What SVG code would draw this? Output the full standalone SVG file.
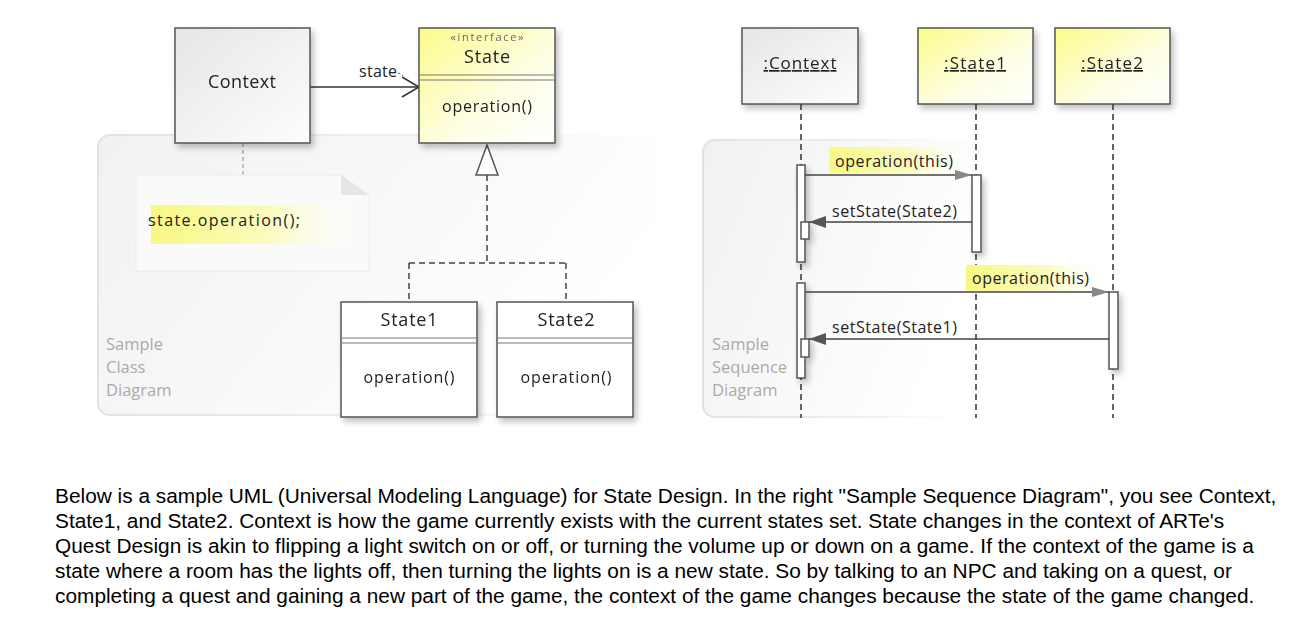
<svg xmlns="http://www.w3.org/2000/svg" width="1309" height="625" viewBox="0 0 1309 625">
<defs>
<style>
.u{font-family:"Open Sans","DejaVu Sans",sans-serif;fill:#222}
.lbl{font-size:16px}
.ttl{font-size:18px}
.gray{font-family:"Open Sans","DejaVu Sans",sans-serif;font-size:16.5px;fill:#aaa}
.box{stroke:#555;stroke-width:1.5}
.life{stroke:#333;stroke-width:1.5;stroke-dasharray:6,4;fill:none}
.msg{stroke:#444;stroke-width:1.5;fill:none}
.act{fill:#fff;stroke:#555;stroke-width:1.5}
.body{font-family:"Liberation Sans",Arial,sans-serif;font-size:20.85px;fill:#000}
</style>
<linearGradient id="gGray" x1="0" y1="0" x2="1" y2="1"><stop offset="0" stop-color="#e6e6e6"/><stop offset="1" stop-color="#fdfdfd"/></linearGradient>
<linearGradient id="gYel" x1="0" y1="0" x2="1" y2="1"><stop offset="0" stop-color="#fbfb8a"/><stop offset="0.6" stop-color="#fefee6"/><stop offset="1" stop-color="#ffffff"/></linearGradient>
<linearGradient id="gHi" x1="0" y1="0" x2="1" y2="0"><stop offset="0" stop-color="#f8f884"/><stop offset="0.6" stop-color="#fbfbc0"/><stop offset="1" stop-color="#ffffff" stop-opacity="0.3"/></linearGradient>
<linearGradient id="gPanel" x1="0" y1="0" x2="1" y2="0.4"><stop offset="0" stop-color="#f1f1f1"/><stop offset="0.8" stop-color="#fcfcfc"/><stop offset="1" stop-color="#ffffff"/></linearGradient>
<linearGradient id="gPanelS" x1="0" y1="0" x2="1" y2="0"><stop offset="0" stop-color="#e2e2e2"/><stop offset="0.6" stop-color="#efefef"/><stop offset="1" stop-color="#ffffff" stop-opacity="0"/></linearGradient>
<filter id="sh" x="-20%" y="-20%" width="150%" height="150%">
<feGaussianBlur in="SourceAlpha" stdDeviation="3"/>
<feOffset dx="3" dy="4" result="b"/>
<feComponentTransfer><feFuncA type="linear" slope="0.25"/></feComponentTransfer>
<feMerge><feMergeNode/><feMergeNode in="SourceGraphic"/></feMerge>
</filter>
<marker id="open" markerWidth="20" markerHeight="24" refX="18" refY="12" orient="auto" markerUnits="userSpaceOnUse">
<path d="M1,2 L18,12 L1,22" fill="none" stroke="#333" stroke-width="1.5"/>
</marker>
<marker id="fill" markerWidth="18" markerHeight="14" refX="17" refY="7" orient="auto" markerUnits="userSpaceOnUse">
<path d="M0,1 L17,7 L0,13 Z" fill="#555"/>
</marker>
<marker id="fillL" markerWidth="18" markerHeight="12" refX="17" refY="6" orient="auto" markerUnits="userSpaceOnUse">
<path d="M0,1 L17,6 L0,11 Z" fill="#888"/>
</marker>
</defs>
<rect width="1309" height="625" fill="#fff"/>

<!-- panels -->
<g id="classPanel">
<rect x="98" y="135" width="560" height="280" rx="12" fill="url(#gPanel)" stroke="url(#gPanelS)" stroke-width="2"/>
<text class="gray" x="106" y="350">Sample</text>
<text class="gray" x="106" y="373">Class</text>
<text class="gray" x="106" y="396">Diagram</text>
</g>
<g id="seqPanel">
<rect x="703" y="140" width="280" height="277" rx="12" fill="url(#gPanel)" stroke="url(#gPanelS)" stroke-width="2"/>
<text class="gray" x="712" y="350">Sample</text>
<text class="gray" x="712" y="373">Sequence</text>
<text class="gray" x="712" y="396">Diagram</text>
</g>

<!-- class diagram connectors -->
<g id="classConnectors">
<line x1="310" y1="87" x2="419" y2="87" stroke="#333" stroke-width="1.5" marker-end="url(#open)"/>
<text class="u lbl" x="359" y="77" textLength="38">state</text>
<path d="M398,73 Q402,74 404,77" fill="none" stroke="#555" stroke-width="1" stroke-dasharray="2,2"/>
<path d="M487,175 V263 M409,263 H566 M409,263 V302 M566,263 V302" fill="none" stroke="#444" stroke-width="1.5" stroke-dasharray="6,4"/>
<polygon points="487,145 476,175 498,175" fill="#fff" stroke="#555" stroke-width="1.5"/>
<line x1="243" y1="143" x2="243" y2="175" stroke="#888" stroke-width="1" stroke-dasharray="4,3"/>
</g>

<g id="context" filter="url(#sh)">
<rect class="box" x="175" y="28" width="135" height="115" fill="url(#gGray)"/>
<text class="u ttl" x="242" y="88" text-anchor="middle" textLength="68">Context</text>
</g>

<g id="stateIface" filter="url(#sh)">
<rect class="box" x="419" y="28" width="136" height="115" fill="url(#gYel)"/>
<line x1="419" y1="75" x2="555" y2="75" stroke="#777" stroke-width="1"/>
<line x1="419" y1="80" x2="555" y2="80" stroke="#777" stroke-width="1"/>
<text class="u" x="487" y="41" text-anchor="middle" font-size="11" style="fill:#666" textLength="73">«interface»</text>
<text class="u ttl" x="487" y="63" text-anchor="middle" textLength="46">State</text>
<text class="u lbl" x="487" y="112" text-anchor="middle" textLength="90">operation()</text>
</g>

<g id="note">
<polygon points="136,175 341,175 369,195 369,271 136,271" fill="#fafafa" stroke="#ececec" stroke-width="1"/>
<polygon points="341,175 341,195 369,195" fill="#e6e6e6"/>
<rect x="151" y="205" width="200" height="39" fill="url(#gHi)"/>
<text class="u lbl" x="148" y="226" textLength="152">state.operation();</text>
</g>

<g id="state1" filter="url(#sh)">
<rect class="box" x="341" y="302" width="136" height="115" fill="#fff"/>
<line x1="341" y1="338" x2="477" y2="338" stroke="#777" stroke-width="1"/>
<line x1="341" y1="343" x2="477" y2="343" stroke="#777" stroke-width="1"/>
<text class="u ttl" x="409" y="326" text-anchor="middle" textLength="57">State1</text>
<text class="u lbl" x="409" y="383" text-anchor="middle" textLength="91">operation()</text>
</g>

<g id="state2" filter="url(#sh)">
<rect class="box" x="497" y="302" width="136" height="115" fill="#fff"/>
<line x1="497" y1="338" x2="633" y2="338" stroke="#777" stroke-width="1"/>
<line x1="497" y1="343" x2="633" y2="343" stroke="#777" stroke-width="1"/>
<text class="u ttl" x="566" y="326" text-anchor="middle" textLength="57">State2</text>
<text class="u lbl" x="566" y="383" text-anchor="middle" textLength="91">operation()</text>
</g>

<!-- sequence diagram -->
<g id="seqContext" filter="url(#sh)">
<rect class="box" x="742" y="28" width="116" height="76" fill="url(#gGray)"/>
<text class="u" font-size="17" x="800" y="69" text-anchor="middle" text-decoration="underline" textLength="73">:Context</text>
</g>
<g id="seqState1" filter="url(#sh)">
<rect class="box" x="918" y="28" width="115" height="76" fill="url(#gYel)"/>
<text class="u" font-size="17" x="975" y="69" text-anchor="middle" text-decoration="underline" textLength="62">:State1</text>
</g>
<g id="seqState2" filter="url(#sh)">
<rect class="box" x="1055" y="28" width="115" height="76" fill="url(#gYel)"/>
<text class="u" font-size="17" x="1112" y="69" text-anchor="middle" text-decoration="underline" textLength="62">:State2</text>
</g>

<g id="lifelines">
<line class="life" x1="801" y1="104" x2="801" y2="418"/>
<line class="life" x1="976" y1="104" x2="976" y2="418"/>
<line class="life" x1="1113" y1="104" x2="1113" y2="418"/>
</g>

<g id="activations" filter="url(#sh)">
<rect class="act" x="797" y="165" width="8" height="97"/>
<rect class="act" x="801" y="222" width="8" height="17"/>
<rect class="act" x="972" y="175" width="9" height="77"/>
<rect class="act" x="797" y="283" width="8" height="95"/>
<rect class="act" x="801" y="339" width="8" height="18"/>
<rect class="act" x="1109" y="292" width="9" height="77"/>
</g>

<g id="messages">
<rect x="829" y="147" width="137" height="26" fill="url(#gHi)"/>
<text class="u lbl" x="835" y="167" textLength="118">operation(this)</text>
<line class="msg" x1="805" y1="175" x2="972" y2="175" marker-end="url(#fillL)"/>
<text class="u lbl" x="832" y="217" textLength="125">setState(State2)</text>
<line class="msg" x1="972" y1="222" x2="809" y2="222" marker-end="url(#fill)"/>
<rect x="966" y="265" width="137" height="26" fill="url(#gHi)"/>
<text class="u lbl" x="972" y="284" textLength="117">operation(this)</text>
<line class="msg" x1="805" y1="292" x2="1109" y2="292" marker-end="url(#fillL)"/>
<text class="u lbl" x="832" y="333" textLength="125">setState(State1)</text>
<line class="msg" x1="1109" y1="339" x2="809" y2="339" marker-end="url(#fill)"/>
</g>

<g id="description">
<text class="body" x="55" y="503">Below is a sample UML (Universal Modeling Language) for State Design. In the right "Sample Sequence Diagram", you see Context,</text>
<text class="body" x="55" y="528">State1, and State2. Context is how the game currently exists with the current states set. State changes in the context of ARTe's</text>
<text class="body" x="55" y="553">Quest Design is akin to flipping a light switch on or off, or turning the volume up or down on a game. If the context of the game is a</text>
<text class="body" x="55" y="578">state where a room has the lights off, then turning the lights on is a new state. So by talking to an NPC and taking on a quest, or</text>
<text class="body" x="55" y="603">completing a quest and gaining a new part of the game, the context of the game changes because the state of the game changed.</text>
</g>
</svg>
